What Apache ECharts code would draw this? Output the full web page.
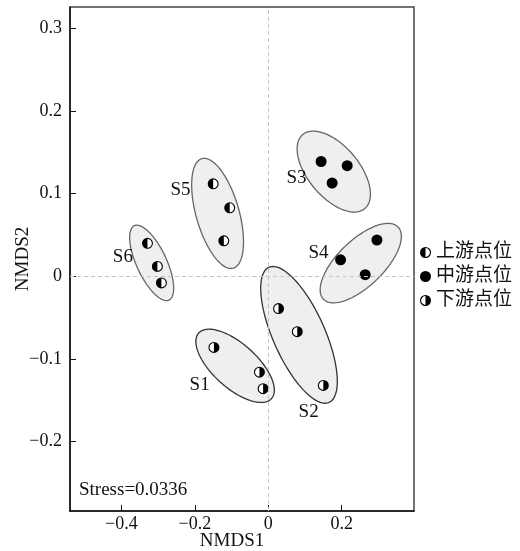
<!DOCTYPE html>
<html>
<head>
<meta charset="utf-8">
<script src="https://cdn.jsdelivr.net/npm/echarts@6/dist/echarts.min.js"></script>
<style>html,body{margin:0;padding:0;background:#fff;}#c{width:520px;height:551px;}</style>
</head>
<body>
<div id="c"></div>
<script>
// ---- data ----
const xTicks = [-0.4, -0.2, 0, 0.2];
const yTicks = [-0.2, -0.1, 0, 0.1, 0.2, 0.3];
const legendNames = ['上游点位', '中游点位', '下游点位'];
// upstream sites (S5, S6)
const upstream = [[-0.150, 0.112], [-0.105, 0.083], [-0.121, 0.043],
                  [-0.329, 0.040], [-0.302, 0.012], [-0.291, -0.008]];
// midstream sites (S3, S4)
const midstream = [[0.144, 0.139], [0.215, 0.134], [0.174, 0.113],
                   [0.197, 0.020], [0.296, 0.044], [0.264, 0.002]];
// downstream sites (S1, S2)
const downstream = [[-0.148, -0.086], [-0.024, -0.116], [-0.014, -0.136],
                    [0.028, -0.039], [0.079, -0.067], [0.150, -0.132]];
// group ellipses: [centerX, centerY, majorHalfDX, majorHalfDY, minor/major ratio]
const groupNames = ['S1', 'S2', 'S3', 'S4', 'S5', 'S6'];
const ellipses = [
  [-0.0903, -0.1083, 0.0991, -0.0397, 0.449],
  [0.0838, -0.0708, 0.0819, -0.0818, 0.351],
  [0.1785, 0.1268, 0.0845, -0.0448, 0.528],
  [0.2520, 0.0160, 0.1016, 0.0437, 0.443],
  [-0.1380, 0.0762, 0.0427, -0.0663, 0.377],
  [-0.3176, 0.0163, 0.0472, -0.0450, 0.366]
];
const groupLabelPos = [[-0.187, -0.131], [0.110, -0.1645], [0.077, 0.1185],
                       [0.137, 0.0278], [-0.239, 0.105], [-0.396, 0.023]];
const stressText = 'Stress=0.0336';

// ---- styling helpers ----
const FONT = '"Liberation Serif", "Times New Roman", "Noto Sans CJK SC", serif';
const ring = 'M10,0A10,10 0 1 1 10,20A10,10 0 1 1 10,0Z M10,2A8,8 0 1 0 10,18A8,8 0 1 0 10,2Z';
const leftHalf = 'path://' + ring + ' M10,2A8,8 0 0 0 10,18Z';
const rightHalf = 'path://' + ring + ' M10,2A8,8 0 0 1 10,18Z';
const fmt = v => (Math.abs(v) < 1e-9 ? '0' : (v < 0 ? '\u2212' + String(Math.round(-v * 10) / 10) : String(Math.round(v * 10) / 10)));
const strokeColors = ['#333', '#333', '#666', '#666', '#666', '#666'];

const chart = echarts.init(document.getElementById('c'), null, {renderer: 'canvas'});
chart.setOption({
  animation: false,
  backgroundColor: '#fff',
  textStyle: {fontFamily: FONT},
  grid: {left: 70, right: 106, top: 7, bottom: 40, outerBoundsMode: 'none', containLabel: false,
         show: true, borderColor: '#444', borderWidth: 1.5, backgroundColor: 'transparent'},
  xAxis: {
    type: 'value', min: -0.54, max: 0.397,
    name: 'NMDS1', nameLocation: 'middle', nameGap: 21, nameMoveOverlap: false,
    nameTextStyle: {fontSize: 19, color: '#111', fontFamily: FONT, padding: [0, 20, 0, 0]},
    axisLine: {show: true, onZero: false, lineStyle: {color: '#111', width: 1.5}},
    axisTick: {show: true, inside: true, length: 6, customValues: xTicks, lineStyle: {color: '#111', width: 1}},
    axisLabel: {customValues: xTicks, formatter: fmt, fontSize: 18, color: '#111', margin: 4, fontFamily: FONT},
    splitLine: {show: false}
  },
  yAxis: {
    type: 'value', min: -0.284, max: 0.326,
    name: 'NMDS2', nameLocation: 'middle', nameGap: 37, nameRotate: 90, nameMoveOverlap: false,
    nameTextStyle: {fontSize: 19, color: '#111', fontFamily: FONT},
    axisLine: {show: true, onZero: false, lineStyle: {color: '#111', width: 1.5}},
    axisTick: {show: true, inside: true, length: 6, customValues: yTicks, lineStyle: {color: '#111', width: 1}},
    axisLabel: {customValues: yTicks, formatter: fmt, fontSize: 18, color: '#111', margin: 8, fontFamily: FONT},
    splitLine: {show: false}
  },
  legend: {
    orient: 'vertical', left: 415, top: 238, itemWidth: 11, itemHeight: 11, itemGap: 5,
    textStyle: {fontSize: 19, color: '#111', fontFamily: FONT},
    data: [
      {name: legendNames[0], icon: leftHalf},
      {name: legendNames[1], icon: 'circle'},
      {name: legendNames[2], icon: rightHalf}
    ]
  },
  graphic: [{
    type: 'text', left: 79, top: 481,
    style: {text: stressText, font: '19px ' + FONT, fill: '#111'}
  }],
  series: [
    {
      type: 'custom', name: 'ellipses', z: 1, silent: true,
      data: ellipses,
      encode: {x: 0, y: 1},
      renderItem: function (params, api) {
        const cx = api.value(0), cy = api.value(1);
        const c = api.coord([cx, cy]);
        const e = api.coord([cx + api.value(2), cy + api.value(3)]);
        const ux = e[0] - c[0], uy = e[1] - c[1];
        const r = api.value(4);
        const vx = -uy * r, vy = ux * r;
        const pts = [];
        for (let i = 0; i < 120; i++) {
          const t = i / 120 * Math.PI * 2;
          pts.push([c[0] + Math.cos(t) * ux + Math.sin(t) * vx, c[1] + Math.cos(t) * uy + Math.sin(t) * vy]);
        }
        return {
          type: 'polygon', shape: {points: pts},
          style: {fill: '#efefef', stroke: strokeColors[params.dataIndex], lineWidth: 1.3}
        };
      }
    },
    {
      type: 'line', name: 'zero', data: [], z: 2, silent: true,
      markLine: {
        silent: true, symbol: 'none', label: {show: false},
        lineStyle: {type: [4, 3], color: '#c4c4c4', width: 1},
        data: [{xAxis: 0}, {yAxis: 0}]
      }
    },
    {
      type: 'scatter', name: 'base', z: 3, silent: true, symbol: 'circle', symbolSize: 10,
      itemStyle: {color: '#fff', opacity: 1},
      data: upstream.concat(downstream)
    },
    {
      type: 'scatter', name: legendNames[0], z: 4, symbol: leftHalf, symbolSize: 11,
      itemStyle: {color: '#000', opacity: 1}, data: upstream
    },
    {
      type: 'scatter', name: legendNames[1], z: 4, symbol: 'circle', symbolSize: 11,
      itemStyle: {color: '#000', opacity: 1}, data: midstream
    },
    {
      type: 'scatter', name: legendNames[2], z: 4, symbol: rightHalf, symbolSize: 11,
      itemStyle: {color: '#000', opacity: 1}, data: downstream
    },
    {
      type: 'scatter', name: 'groupLabels', z: 5, silent: true, symbolSize: 1,
      itemStyle: {color: 'rgba(0,0,0,0)', opacity: 1},
      data: groupLabelPos.map((p, i) => ({value: p, name: groupNames[i]})),
      label: {show: true, position: 'inside', formatter: '{b}', fontSize: 19, color: '#111', opacity: 1, fontFamily: FONT}
    }
  ]
});
</script>
</body>
</html>
